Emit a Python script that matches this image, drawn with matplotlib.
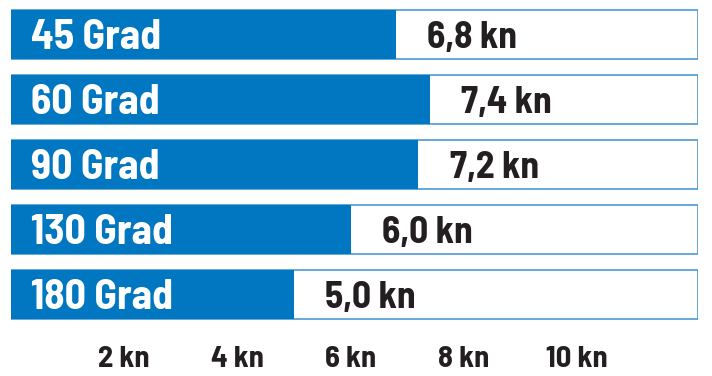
import matplotlib.pyplot as plt

# Data
angles = ['45 Grad', '60 Grad', '90 Grad', '130 Grad', '180 Grad']
speeds = [6.8, 7.4, 7.2, 6.0, 5.0]
speed_labels = ['6,8 kn', '7,4 kn', '7,2 kn', '6,0 kn', '5,0 kn']
ticks = [2, 4, 6, 8, 10]
tick_labels = ['2 kn', '4 kn', '6 kn', '8 kn', '10 kn']
full_scale = 12.14

blue = '#0077c0'
edge_blue = '#4a9ad6'
dark = '#231f20'

fam = ['Barlow Semi Condensed', 'DejaVu Sans']

fig = plt.figure(figsize=(7.12, 3.76), dpi=100)
ax = fig.add_axes([11 / 712, 1 - 327 / 376, 687 / 712, 325 / 376])

y = list(range(len(angles)))
ax.barh(y, [full_scale] * len(y), height=0.75, color='white',
        edgecolor=edge_blue, linewidth=1.2, zorder=1)
ax.barh(y, speeds, height=0.75, color=blue, linewidth=0, zorder=2)

for yi, name, v, lab in zip(y, angles, speeds, speed_labels):
    ax.text(0.35, yi + 0.06, name, color='white', fontsize=30, fontweight='bold',
            family=fam, va='center', ha='left', zorder=3)
    ax.text(v + 0.55, yi + 0.05, lab, color=dark, fontsize=27, fontweight='bold',
            family=fam, va='center', ha='left', zorder=3)

ax.set_xlim(0, full_scale)
ax.set_ylim(len(y) - 0.5, -0.5)
ax.set_yticks([])
ax.set_xticks(ticks)
ax.set_xticklabels(tick_labels, fontsize=22, fontweight='bold', family=fam, color=dark)
ax.tick_params(axis='x', length=0, pad=14)
for s in ax.spines.values():
    s.set_visible(False)

fig.savefig('out.png', dpi=100)
